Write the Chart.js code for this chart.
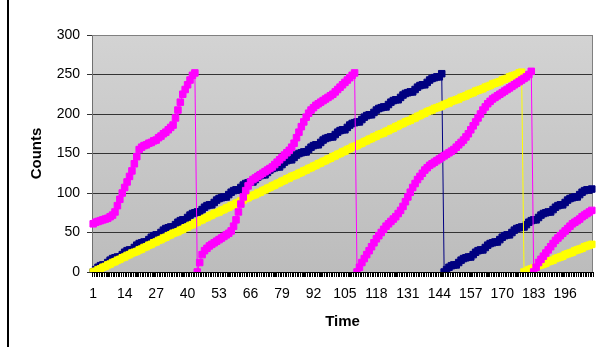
<!DOCTYPE html>
<html>
<head>
<meta charset="utf-8">
<script src="https://cdn.jsdelivr.net/npm/chart.js@4.4.1/dist/chart.umd.min.js"></script>
<style>
  html, body { margin: 0; padding: 0; background: #fff; }
  #wrap { position: relative; width: 601px; height: 347px; }
</style>
</head>
<body>
<div id="wrap"><canvas id="countsChart" width="601" height="347"></canvas></div>
<script>
// counter readings, one per time step (1..207)
const magentaCounts = [
  61,63,64,65,66,67,68,70,72,76,
  84,92,100,107,114,121,128,137,146,155,
  158,160,161,163,164,166,167,170,172,175,
  177,180,183,186,195,205,215,225,231,237,
  243,249,252,
  0,12,22,27,30,33,35,
  37,39,41,43,45,47,49,52,58,66,
  76,86,95,103,109,114,117,119,121,123,
  125,127,129,131,133,136,139,142,145,148,
  151,154,158,163,170,177,184,190,196,201,
  205,208,211,213,215,217,219,221,223,225,
  228,231,234,237,240,243,246,249,252,
  0,
  6,12,17,22,27,32,37,42,46,50,
  54,58,61,64,67,70,74,78,83,89,
  95,101,107,112,117,121,125,129,132,135,
  137,139,141,143,145,147,149,151,153,155,
  158,161,164,167,171,175,180,185,190,195,
  200,205,209,213,216,219,221,223,225,227,
  229,231,233,235,237,239,241,243,245,247,250,254,
  0,6,12,16,20,24,28,32,
  36,40,43,46,49,52,55,58,61,63,
  65,67,70,72,74,76,78
];
const navyCounts = [
  0,3,6,8,9,9,12,15,17,18,19,19,
  22,25,27,28,28,31,34,36,37,38,38,
  41,44,46,47,47,50,53,55,56,57,57,
  60,63,65,66,66,69,72,74,75,76,76,
  79,82,84,85,85,88,91,93,94,95,95,
  98,101,103,104,104,107,110,112,113,114,114,
  117,120,122,123,123,126,129,131,132,133,133,
  136,139,141,142,142,145,148,150,151,152,152,
  155,158,160,161,161,164,167,169,170,171,171,
  174,177,179,180,180,183,186,188,189,190,190,
  193,196,198,199,199,202,205,207,208,209,209,
  212,215,217,218,218,221,224,226,227,228,228,
  231,234,236,237,237,240,243,245,246,247,247,
  251,
  0,3,6,8,9,9,12,15,17,18,19,19,
  22,25,27,28,28,31,34,36,37,38,38,
  41,44,46,47,47,50,53,55,56,57,57,
  60,63,65,66,66,69,72,74,75,76,76,
  79,82,84,85,85,88,91,93,94,95,95,
  98,101,103,104,104,105
];
const yellowCounts = [
  0,1,3,4,6,7,9,10,12,13,
  15,16,18,19,21,22,24,25,26,28,
  29,31,32,34,35,37,38,40,41,43,
  44,46,47,49,50,51,53,54,56,57,
  59,60,62,63,65,66,68,69,71,72,
  74,75,76,78,79,81,82,84,85,87,
  88,90,91,93,94,96,97,98,100,101,
  103,104,106,107,109,110,112,113,115,116,
  118,119,121,122,123,125,126,128,129,131,
  132,134,135,137,138,140,141,143,144,146,
  147,149,150,152,153,155,156,158,159,160,
  162,163,165,166,168,169,171,172,174,175,
  176,178,179,181,182,184,185,187,188,190,
  191,192,194,195,197,198,200,201,203,204,
  205,207,208,209,210,212,213,214,216,217,
  218,219,221,222,223,225,226,227,229,230,
  231,232,234,235,236,238,239,240,241,243,
  244,245,247,248,249,250,252,253,
  0,1,
  3,4,5,6,8,9,10,11,13,14,
  15,17,18,19,20,22,23,24,25,27,
  28,29,30,32,33,34,35
];
const timeSteps = magentaCounts.map((_, i) => i + 1);
const timeTickLabels = [1, 14, 27, 40, 53, 66, 79, 92, 105, 118, 131, 144, 157, 170, 183, 196];
const countTicks = [0, 50, 100, 150, 200, 250, 300];

const FONT = "'Liberation Sans', Arial, sans-serif";

// grey plot area + left frame line like the original sheet
const plotBg = {
  id: 'plotBg',
  beforeDraw(chart) {
    const { ctx, chartArea: a } = chart;
    ctx.save();
    ctx.fillStyle = '#fff';
    ctx.fillRect(0, 0, chart.width, chart.height);
    const g = ctx.createLinearGradient(0, a.top, 0, a.bottom);
    g.addColorStop(0, '#d3d3d3');
    g.addColorStop(1, '#bcbcbc');
    ctx.fillStyle = g;
    ctx.fillRect(a.left, a.top, a.right - a.left, a.bottom - a.top);
    ctx.fillStyle = '#000';
    ctx.fillRect(7, 0, 2, chart.height);
    ctx.restore();
  },
  beforeDatasetsDraw(chart) {
    const { ctx, chartArea: a } = chart;
    ctx.save();
    ctx.strokeStyle = '#808080';
    ctx.lineWidth = 1;
    ctx.beginPath();
    ctx.moveTo(a.left, a.top + 0.5);
    ctx.lineTo(a.right - 0.5, a.top + 0.5);
    ctx.lineTo(a.right - 0.5, a.bottom);
    ctx.stroke();
    // tick comb between time steps, under the x axis
    const xs = chart.scales.x;
    const half = (xs.getPixelForValue(1) - xs.getPixelForValue(0)) / 2;
    ctx.fillStyle = '#000';
    for (let i = 0; i <= timeSteps.length; i++) {
      const px = Math.round(xs.getPixelForValue(i) - half);
      ctx.fillRect(px, a.bottom, 1, 5);
    }
    ctx.restore();
  }
};

function series(label, data, color) {
  return {
    label, data,
    borderColor: color, backgroundColor: color,
    borderWidth: 1,
    pointStyle: 'rect', pointRadius: 4.6, pointBorderWidth: 1,
    pointBackgroundColor: color, pointBorderColor: color,
    tension: 0, fill: false
  };
}

new Chart(document.getElementById('countsChart'), {
  type: 'line',
  data: {
    labels: timeSteps,
    datasets: [
      series('Series3', magentaCounts, '#ff00ff'),
      series('Series2', yellowCounts, '#ffff00'),
      series('Series1', navyCounts, '#000080')
    ]
  },
  options: {
    responsive: false, animation: false, devicePixelRatio: 1,
    layout: { padding: { top: 35, right: 8, left: 0, bottom: 0 } },
    plugins: { legend: { display: false }, tooltip: { enabled: false } },
    scales: {
      x: {
        offset: true,
        afterFit: s => { s.height = 75; },
        grid: { display: true, drawOnChartArea: false, drawTicks: true, tickLength: 5, offset: true, color: '#000', tickColor: '#000', tickWidth: 1 },
        border: { color: '#000', width: 1 },
        ticks: {
          autoSkip: false, maxRotation: 0, minRotation: 0, padding: 9,
          color: '#000', font: { family: FONT, size: 14 },
          callback(v) { const lab = this.getLabelForValue(v); return timeTickLabels.includes(+lab) ? String(lab) : ''; }
        },
        title: { display: true, text: 'Time', color: '#000', font: { family: FONT, size: 15, weight: 'bold' }, padding: { top: 0, bottom: 16 } }
      },
      y: {
        min: 0, max: 300,
        afterFit: s => { s.width = 92; },
        afterBuildTicks: s => { s.ticks = countTicks.map(v => ({ value: v })); },
        grid: { color: c => (c.tick && c.tick.value === 300 ? '#808080' : '#333'), tickLength: 5, tickColor: '#333' },
        border: { color: '#707070' },
        ticks: { padding: 7, color: '#000', font: { family: FONT, size: 14 } },
        title: { display: true, text: 'Counts', color: '#000', font: { family: FONT, size: 15, weight: 'bold' }, padding: { top: 28, bottom: 0 } }
      }
    }
  },
  plugins: [plotBg]
});
</script>
</body>
</html>
